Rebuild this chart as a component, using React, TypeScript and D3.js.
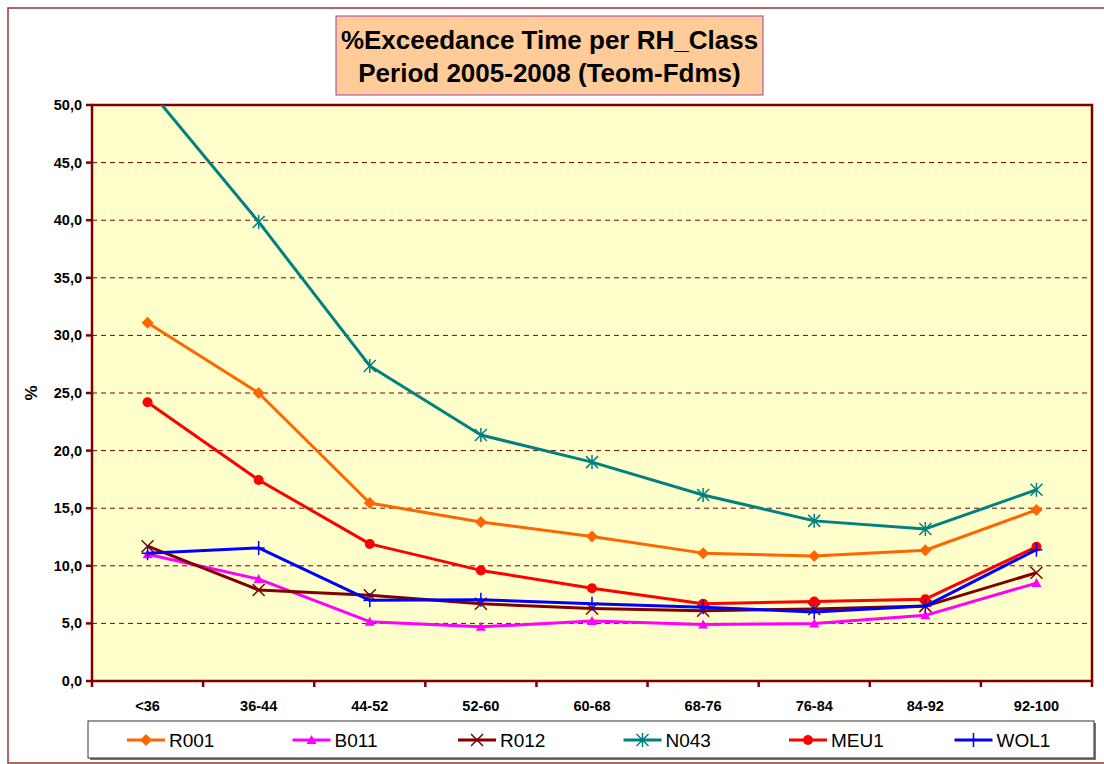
import React from "react";
import * as d3 from "d3";

const categories = ["<36", "36-44", "44-52", "52-60", "60-68", "68-76", "76-84", "84-92", "92-100"];
const R001 = [31.1, 25.0, 15.45, 13.8, 12.55, 11.1, 10.85, 11.35, 14.85];
const B011 = [11.0, 8.85, 5.15, 4.7, 5.2, 4.9, 5.0, 5.7, 8.5];
const R012 = [11.7, 7.9, 7.45, 6.7, 6.3, 6.1, 6.25, 6.5, 9.4];
const N043 = [51.5, 39.85, 27.35, 21.35, 19.0, 16.15, 13.9, 13.2, 16.6];
const MEU1 = [24.2, 17.45, 11.9, 9.6, 8.05, 6.7, 6.9, 7.1, 11.65];
const WOL1 = [11.1, 11.55, 7.0, 7.05, 6.7, 6.4, 6.0, 6.5, 11.4];
const yTicks = [0, 5, 10, 15, 20, 25, 30, 35, 40, 45, 50];

const seriesList = [
  { name: "R001", values: R001, color: "#FF6600", marker: "diamond" },
  { name: "B011", values: B011, color: "#FF00FF", marker: "triangle" },
  { name: "R012", values: R012, color: "#800000", marker: "x" },
  { name: "N043", values: N043, color: "#008080", marker: "star" },
  { name: "MEU1", values: MEU1, color: "#FF0000", marker: "circle" },
  { name: "WOL1", values: WOL1, color: "#0000FF", marker: "plus" },
];

function Marker({ type, x, y, color }: { type: string; x: number; y: number; color: string }) {
  const s = 6;
  switch (type) {
    case "diamond":
      return <path d={`M${x},${y - s} L${x + s},${y} L${x},${y + s} L${x - s},${y} Z`} fill={color} />;
    case "triangle":
      return <path d={`M${x},${y - 5} L${x + 5},${y + 4} L${x - 5},${y + 4} Z`} fill={color} />;
    case "circle":
      return <circle cx={x} cy={y} r={5} fill={color} />;
    case "x":
      return (
        <path d={`M${x - s},${y - s} L${x + s},${y + s} M${x - s},${y + s} L${x + s},${y - s}`} stroke={color} strokeWidth={1.5} />
      );
    case "star":
      return (
        <path
          d={`M${x - s},${y - s} L${x + s},${y + s} M${x - s},${y + s} L${x + s},${y - s} M${x},${y - s - 1} L${x},${y + s + 1}`}
          stroke={color}
          strokeWidth={1.5}
        />
      );
    case "plus":
      return <path d={`M${x - s},${y} L${x + s},${y} M${x},${y - s - 1} L${x},${y + s + 1}`} stroke={color} strokeWidth={1.5} />;
  }
  return null;
}

export default function App() {
  const W = 1104, H = 764;
  const left = 92, right = 1092, top = 105, bottom = 681;
  const x = d3.scaleBand<string>().domain(categories).range([left, right]);
  const y = d3.scaleLinear().domain([0, 50]).range([bottom, top]);
  const cx = (c: string) => (x(c) as number) + x.bandwidth() / 2;
  const line = d3
    .line<number>()
    .x((_, i) => cx(categories[i]))
    .y((d) => y(d));
  const font = "Arial, 'Liberation Sans', sans-serif";
  const darkRed = "#800000";

  return (
    <svg width={W} height={H} style={{ position: "absolute", left: 0, top: 0, fontFamily: font }}>
      <defs>
        <clipPath id="plotClip">
          <rect x={left} y={top} width={right - left} height={bottom - top} />
        </clipPath>
      </defs>
      <rect x={0} y={0} width={W} height={H} fill="#fff" />
      <rect x={8} y={8} width={W + 10} height={755} fill="none" stroke="#993333" strokeWidth={1.5} />

      {/* plot area */}
      <rect x={left} y={top} width={right - left} height={bottom - top} fill="#FFFFCC" />
      {yTicks.filter((t) => t > 0 && t < 50).map((t) => (
        <line key={t} x1={left} x2={right} y1={y(t)} y2={y(t)} stroke={darkRed} strokeWidth={1} strokeDasharray="5,4" />
      ))}
      <rect x={left} y={top} width={right - left} height={bottom - top} fill="none" stroke={darkRed} strokeWidth={2.5} />

      {/* y ticks */}
      {yTicks.map((t) => (
        <g key={t}>
          <line x1={left - 6} x2={left} y1={y(t)} y2={y(t)} stroke={darkRed} strokeWidth={2.5} />
          <text x={left - 10} y={y(t) + 5} textAnchor="end" fontSize={14.5} fontWeight="bold" fill="#000">
            {t.toFixed(1).replace(".", ",")}
          </text>
        </g>
      ))}
      {/* x ticks */}
      {categories.map((c, i) => (
        <line key={"t" + i} x1={x(c) as number} x2={x(c) as number} y1={bottom} y2={bottom + 6} stroke={darkRed} strokeWidth={2.5} />
      ))}
      <line x1={right} x2={right} y1={bottom} y2={bottom + 6} stroke={darkRed} strokeWidth={2.5} />
      {categories.map((c) => (
        <text key={c} x={cx(c)} y={711} textAnchor="middle" fontSize={14.5} fontWeight="bold" fill="#000">
          {c}
        </text>
      ))}

      <text transform={`translate(37,${y(25)}) rotate(-90)`} textAnchor="middle" fontSize={17} fontWeight="bold">
        %
      </text>

      {/* series */}
      <g clipPath="url(#plotClip)">
        {seriesList.map((s) => (
          <g key={s.name}>
            <path d={line(s.values) || ""} fill="none" stroke={s.color} strokeWidth={3} strokeLinejoin="round" />
            {s.values.map((v, i) => (
              <Marker key={i} type={s.marker} x={cx(categories[i])} y={y(v)} color={s.color} />
            ))}
          </g>
        ))}
      </g>

      {/* title */}
      <rect x={336} y={16} width={427} height={79} fill="#FFCC99" stroke="#A040A0" strokeWidth={1} />
      <text x={549.5} y={49} textAnchor="middle" fontSize={26} fontWeight="bold" fill="#000">
        %Exceedance Time per RH_Class
      </text>
      <text x={549.5} y={82} textAnchor="middle" fontSize={26} fontWeight="bold" fill="#000">
        Period 2005-2008 (Teom-Fdms)
      </text>

      {/* legend */}
      <rect x={90} y={723} width={1006} height={37} fill="#777" />
      <rect x={88} y={721} width={1006} height={37} fill="#fff" stroke="#333" strokeWidth={1} />
      {seriesList.map((s, i) => {
        const lx = 127 + i * 165.5;
        const ly = 740;
        return (
          <g key={"lg" + s.name}>
            <line x1={lx} x2={lx + 38} y1={ly} y2={ly} stroke={s.color} strokeWidth={3} />
            <Marker type={s.marker} x={lx + 19} y={ly} color={s.color} />
            <text x={lx + 42} y={ly + 7} fontSize={19} fill="#000">
              {s.name}
            </text>
          </g>
        );
      })}
    </svg>
  );
}
